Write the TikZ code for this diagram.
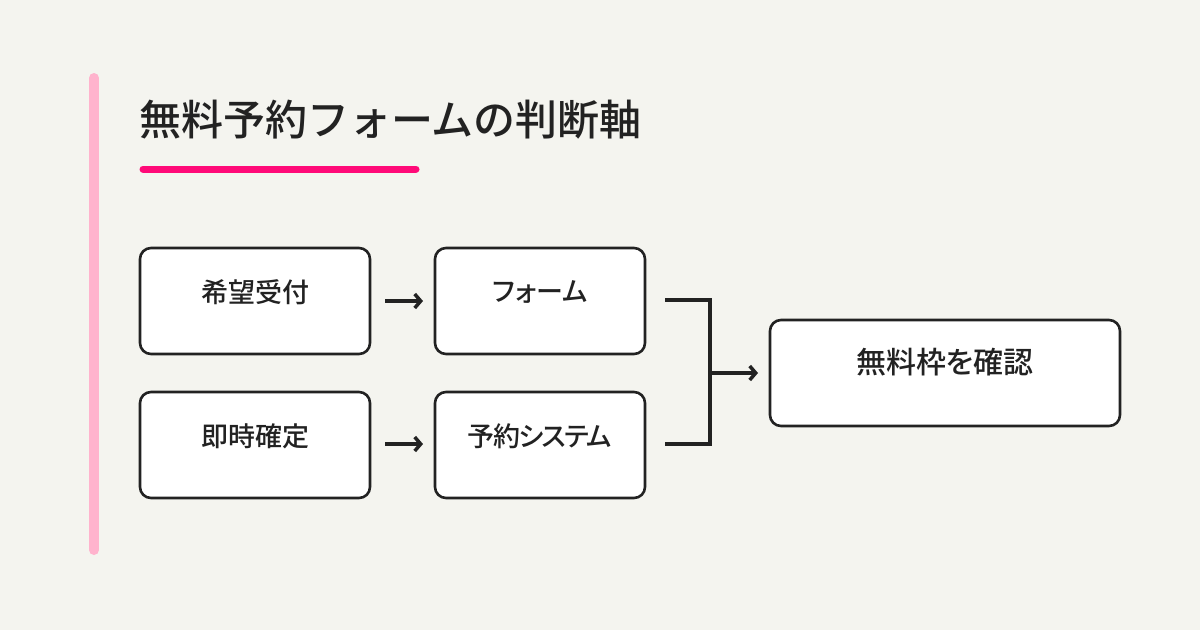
\documentclass[tikz,border=0pt]{standalone}
\usepackage{fontspec}
\setmainfont{Noto Sans CJK JP}[UprightFont=* Medium]
\newfontfamily\boxfont{Noto Sans CJK JP}[UprightFont=* Medium, RawFeature=+palt]
\newfontfamily\boxfonttight{Noto Sans CJK JP}[UprightFont=* Medium, RawFeature=+palt, LetterSpace=-6]
\usetikzlibrary{arrows.meta}
\definecolor{bg}{HTML}{F4F4EF}
\definecolor{barpink}{HTML}{FFB3CD}
\definecolor{hotpink}{HTML}{FF0A78}
\definecolor{ink}{HTML}{222222}
\tikzset{
  box/.style={draw=ink, line width=2.6pt, fill=white, rounded corners=11pt, inner sep=0pt},
  boxtxt/.style={text=ink, inner sep=0pt, anchor=center, font=\boxfont\fontsize{27}{32}\selectfont},
  conn/.style={draw=ink, line width=3.5pt},
  arr/.style={conn, -{Straight Barb[length=6pt,width=14pt,line width=3.5pt]}},
}
\begin{document}
\begin{tikzpicture}[x=1pt,y=-1pt]
\useasboundingbox (0,0) rectangle (1200,630);
\fill[bg] (0,0) rectangle (1200,630);
% accent bar
\draw[barpink, line width=10pt, line cap=round] (94,78) -- (94,550);
% title
\node[anchor=west, text=ink, inner sep=0pt, font=\fontsize{42}{48}\selectfont] (title) at (139,120) {無料予約フォームの判断軸};
\draw[hotpink, line width=7pt, line cap=round] (143,169) -- (416,169);
% boxes
\draw[box] (140,248) rectangle (370,354);
\draw[box] (435,248) rectangle (645,354);
\draw[box] (140,392) rectangle (370,498);
\draw[box] (435,392) rectangle (645,498);
\draw[box] (770,320) rectangle (1120,426);
\node[boxtxt] (t1) at (255,292) {希望受付};
\node[boxtxt] (t2) at (540,292) {フォーム};
\node[boxtxt] (t3) at (255,436) {即時確定};
\node[boxtxt, font=\boxfonttight\fontsize{27}{32}\selectfont] (t4) at (540,436) {予約システム};
\node[boxtxt, font=\boxfont\fontsize{30}{35}\selectfont] (t5) at (945,362) {無料枠を確認};
% arrows
\coordinate (a1s) at (385,301); \coordinate (a1e) at (423,301);
\coordinate (a2s) at (385,444); \coordinate (a2e) at (423,444);
\draw[arr] (a1s) -- (a1e);
\draw[arr] (a2s) -- (a2e);
% bracket
\coordinate (k1) at (665,300); \coordinate (k2) at (710,300);
\coordinate (k3) at (710,444); \coordinate (k4) at (665,444);
\coordinate (km) at (710,373); \coordinate (ke) at (758,373);
\draw[conn] (k1) -- (k2) -- (k3) -- (k4);
\draw[arr] (km) -- (ke);
\end{tikzpicture}
\end{document}
